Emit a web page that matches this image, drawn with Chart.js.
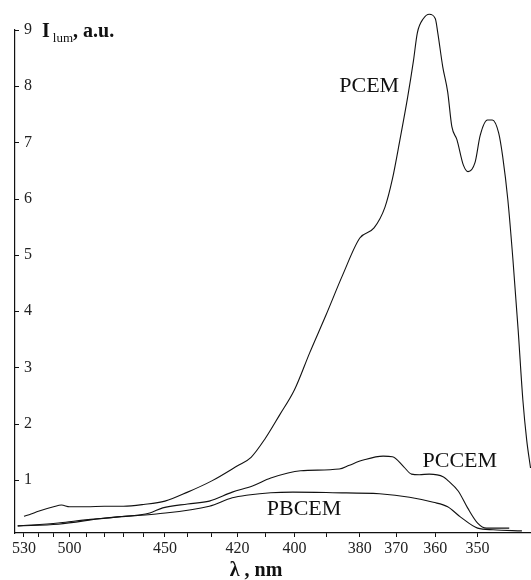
<!DOCTYPE html>
<html>
<head>
<meta charset="utf-8">
<script src="https://cdn.jsdelivr.net/npm/chart.js@4.4.1/dist/chart.umd.min.js"></script>
<style>
  body { margin: 0; background: #fff; }
  #wrap { width: 531px; height: 580px; position: relative; }
</style>
</head>
<body>
<div id="wrap"><canvas id="lumChart"></canvas></div>
<script>
// wavelength (nm) / intensity (a.u.) pairs
const pcemWave = [530, 525, 520, 510, 505, 500, 490, 480, 470, 460, 450, 440, 430, 420, 415, 410, 405, 400, 395, 390, 385, 380, 376, 373, 371, 369, 367, 365.5, 364.5, 363, 361.5, 360, 359.4, 358.2, 357, 356, 354.8, 353.3, 352.2, 350.6, 349.4, 347.8, 346.7, 345.3, 344.4, 343.3, 342.2, 341.1, 340.1, 339.3, 338.5];
const pcemInt = [0.35, 0.39, 0.44, 0.52, 0.55, 0.52, 0.52, 0.53, 0.53, 0.56, 0.62, 0.78, 0.98, 1.25, 1.40, 1.73, 2.15, 2.60, 3.27, 3.93, 4.64, 5.30, 5.48, 5.85, 6.35, 7.05, 7.80, 8.45, 8.95, 9.20, 9.28, 9.20, 8.95, 8.35, 7.90, 7.28, 7.05, 6.60, 6.48, 6.64, 7.13, 7.40, 7.40, 7.17, 6.74, 5.98, 4.91, 3.67, 2.42, 1.71, 1.21];

const pccemWave = [534.5, 507, 495.5, 473, 457, 451, 440, 431, 422, 414.5, 408, 398, 386, 383, 379, 373.5, 371, 368, 366, 364, 361.5, 358, 357, 354.5, 352.3, 350, 348, 343];
const pccemInt = [0.18, 0.23, 0.27, 0.34, 0.41, 0.50, 0.57, 0.62, 0.78, 0.89, 1.03, 1.16, 1.19, 1.26, 1.35, 1.42, 1.41, 1.23, 1.10, 1.09, 1.10, 1.05, 0.99, 0.80, 0.50, 0.23, 0.14, 0.14];

const pbcemWave = [534.5, 507, 479.5, 454, 431, 422, 416, 408, 400.5, 388, 374.5, 366.5, 360.5, 357, 354, 350, 346.5, 340.3];
const pbcemInt = [0.18, 0.21, 0.32, 0.39, 0.53, 0.68, 0.73, 0.77, 0.78, 0.77, 0.75, 0.69, 0.60, 0.52, 0.34, 0.14, 0.11, 0.09];

const tickWaves = [530, 520, 510, 500, 490, 480, 470, 460, 450, 440, 430, 420, 410, 400, 390, 380, 370, 360, 350];
const labelWaves = [530, 500, 450, 420, 400, 380, 370, 360, 350];
const yTicks = [1, 2, 3, 4, 5, 6, 7, 8, 9];

// the printed wavelength axis is not linear; a power of 1/lambda fits its tick spacing
function axisPos(wave) {
  return Math.pow(1000 / wave, 1.75);
}

function toPoints(waves, vals) {
  return waves.map((w, i) => ({ x: axisPos(w), y: vals[i] }));
}

const serif = "'Liberation Serif', 'Times New Roman', serif";
const ink = "#111";

function lineSet(waves, vals) {
  return {
    data: toPoints(waves, vals),
    borderColor: ink,
    borderWidth: 1.1,
    pointRadius: 0,
    cubicInterpolationMode: "monotone",
    clip: false
  };
}

// extra text and inward y tick marks
const decorations = {
  id: "decorations",
  afterDraw(chart) {
    const ctx = chart.ctx;
    const area = chart.chartArea;
    const xs = chart.scales.x;
    const ys = chart.scales.y;
    ctx.save();

    ctx.strokeStyle = ink;
    ctx.lineWidth = 1;
    yTicks.forEach(v => {
      const py = Math.round(ys.getPixelForValue(v)) + 0.5;
      ctx.beginPath();
      ctx.moveTo(area.left, py);
      ctx.lineTo(area.left + 4, py);
      ctx.stroke();
    });

    ctx.fillStyle = ink;
    ctx.textBaseline = "alphabetic";
    ctx.textAlign = "left";

    // curve names
    ctx.font = "22px " + serif;
    ctx.fillText("PCEM", xs.getPixelForValue(axisPos(386)), ys.getPixelForValue(7.9));
    ctx.fillText("PCCEM", xs.getPixelForValue(axisPos(363.2)), ys.getPixelForValue(1.23));
    ctx.fillText("PBCEM", xs.getPixelForValue(axisPos(409.4)), ys.getPixelForValue(0.37));

    // y axis title: I_lum, a.u.
    let tx = area.left + 27;
    const ty = area.top + 7;
    ctx.font = "bold 20px " + serif;
    ctx.fillText("I", tx, ty);
    tx += ctx.measureText("I").width + 3;
    ctx.font = "13px " + serif;
    ctx.fillText("lum", tx, ty + 5);
    tx += ctx.measureText("lum").width;
    ctx.font = "bold 20px " + serif;
    ctx.fillText(", a.u.", tx, ty);

    // x axis title
    ctx.font = "bold 20px " + serif;
    ctx.textAlign = "center";
    ctx.fillText("\u03bb , nm", area.left + 241, chart.height - 4);

    ctx.restore();
  }
};

new Chart(document.getElementById("lumChart"), {
  type: "line",
  data: {
    datasets: [
      lineSet(pcemWave, pcemInt),
      lineSet(pccemWave, pccemInt),
      lineSet(pbcemWave, pbcemInt)
    ]
  },
  options: {
    responsive: true,
    maintainAspectRatio: false,
    animation: false,
    layout: { padding: { left: 15, top: 30, right: 0, bottom: 0 } },
    plugins: {
      legend: { display: false },
      tooltip: { enabled: false }
    },
    scales: {
      x: {
        type: "linear",
        min: axisPos(536.5),
        max: axisPos(338.4),
        afterBuildTicks: scale => {
          scale.ticks = tickWaves.map(w => ({ value: axisPos(w) }));
        },
        afterFit: scale => { scale.height = 47; },
        ticks: {
          autoSkip: false,
          maxRotation: 0,
          padding: 2,
          color: "#222",
          font: { family: serif, size: 16 },
          callback: function (value) {
            const w = Math.round(1000 / Math.pow(value, 1 / 1.75));
            return labelWaves.includes(w) ? String(w) : "";
          }
        },
        grid: { drawOnChartArea: false, drawTicks: true, tickLength: 4, color: ink },
        border: { display: true, color: ink, width: 1.2 }
      },
      y: {
        type: "linear",
        min: 0.053,
        max: 9,
        afterBuildTicks: scale => {
          scale.ticks = yTicks.map(v => ({ value: v }));
        },
        afterFit: scale => { scale.width = 0; },
        ticks: {
          mirror: true,
          padding: 9,
          color: "#222",
          font: { family: serif, size: 16 }
        },
        grid: { drawOnChartArea: false, drawTicks: false, color: ink },
        border: { display: true, color: ink, width: 1.2 }
      }
    }
  },
  plugins: [decorations]
});
</script>
</body>
</html>
